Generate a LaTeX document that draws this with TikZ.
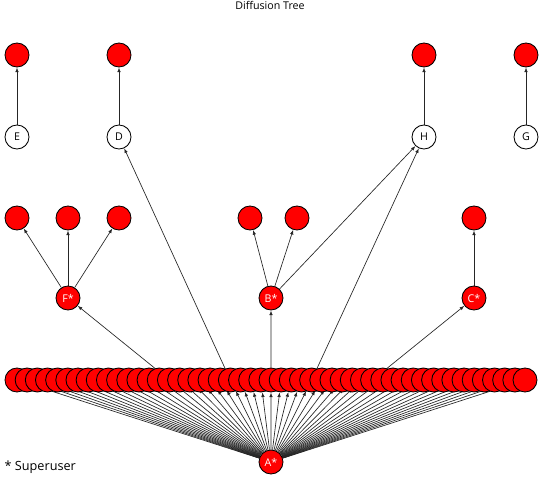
\documentclass[tikz,border=0pt]{standalone}
\usepackage{fontspec}
\setmainfont{Open Sans}
\usetikzlibrary{arrows.meta}
\pgfdeclarelayer{background}
\pgfsetlayers{background,main}

\begin{document}
\begin{tikzpicture}[x=0.75pt, y=-0.75pt, every node/.style={font=\fontsize{8}{9.5}\selectfont}, inf/.style={circle, draw, fill=red, text=white, minimum size=18pt, inner sep=0pt, line width=0.65pt}, uninf/.style={circle, draw, fill=white, minimum size=18pt, inner sep=0pt, line width=0.65pt}, arrow/.style={-{Latex[length=3.5pt,width=2.6pt]}, line width=0.5pt, black!85}]
\useasboundingbox (0,0) rectangle (539,477);
\node (title) at (270,5) {Diffusion Tree};
% top layer
\node[inf] (e1) at (17,55) {};
\node[inf] (d1) at (119,55) {};
\node[inf] (h1) at (424,55) {};
\node[inf] (g1) at (526,55) {};
\node[uninf] (e) at (17,137) {E};
\node[uninf] (d) at (119,137) {D};
\node[uninf] (h) at (424,137) {H};
\node[uninf] (g) at (526,137) {G};
% superusers and their leaves
\node[inf] (f1) at (17,218) {};
\node[inf] (f2) at (68,218) {};
\node[inf] (f3) at (119,218) {};
\node[inf] (b1) at (250,218) {};
\node[inf] (b2) at (297,218) {};
\node[inf] (c1) at (474,218) {};
\node[inf] (f) at (68,298) {F*};
\node[inf] (b) at (271,298) {B*};
\node[inf] (c) at (474,298) {C*};
% crowd
\foreach \i in {1,...,51}
  \node[inf] (r\i) at ({17+(\i-1)*10.16},380) {};
\node[inf] (a) at (271,462) {A*};
\node[anchor=west, font=\fontsize{9.5}{11}\selectfont] (legend) at (0,467) {* Superuser};
\begin{pgfonlayer}{background}
\foreach \i in {1,...,51}
  \draw[arrow] (a) -- (r\i);
\draw[arrow] (r16) -- (f);
\draw[arrow] (r22) -- (d);
\draw[arrow] (r26) -- (b);
\draw[arrow] (r30) -- (h);
\draw[arrow] (r36) -- (c);
\draw[arrow] (b) -- (h);
\draw[arrow] (f) -- (f1);
\draw[arrow] (f) -- (f2);
\draw[arrow] (f) -- (f3);
\draw[arrow] (b) -- (b1);
\draw[arrow] (b) -- (b2);
\draw[arrow] (c) -- (c1);
\draw[arrow] (e) -- (e1);
\draw[arrow] (d) -- (d1);
\draw[arrow] (h) -- (h1);
\draw[arrow] (g) -- (g1);
\end{pgfonlayer}
\end{tikzpicture}
\end{document}
